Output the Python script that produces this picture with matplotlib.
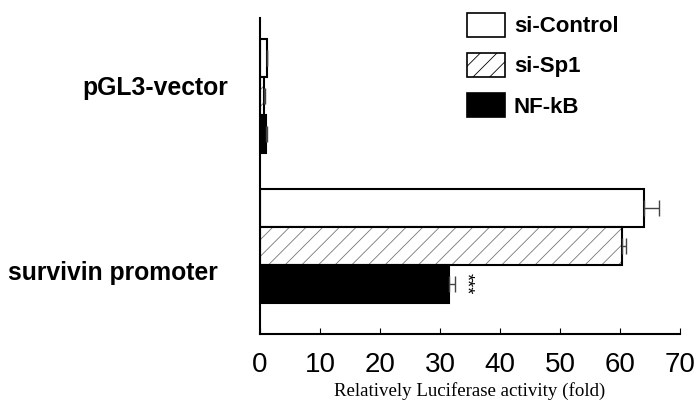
import numpy as np
import matplotlib.pyplot as plt
from matplotlib.patches import Patch

# --- data ---
groups = ["pGL3-vector", "survivin promoter"]
series = ["si-Control", "si-Sp1", "NF-kB"]
values = {
    "si-Control": [1.1, 64.0],
    "si-Sp1": [0.7, 60.3],
    "NF-kB": [1.0, 31.5],
}
errors = {
    "si-Control": [0.1, 2.5],
    "si-Sp1": [0.1, 0.8],
    "NF-kB": [0.1, 1.0],
}
xticks = [0, 10, 20, 30, 40, 50, 60, 70]

# --- styling ---
face = {"si-Control": "white", "si-Sp1": "white", "NF-kB": "black"}
hatch = {"si-Control": None, "si-Sp1": "//", "NF-kB": None}
plt.rcParams['hatch.linewidth'] = 0.6
plt.rcParams['hatch.color'] = '#777777'

fig = plt.figure(figsize=(6.98, 4.07), dpi=100)
ax = fig.add_axes([0.3725, 0.1794, 0.6015, 0.7764])

ypos = np.arange(len(groups))
h = 0.253
for i, s in enumerate(series):
    y = ypos + (i - 1) * h
    v = values[s]
    # hatch layer (gray lines), then outline on top
    ax.barh(y, v, height=h, color=face[s], hatch=hatch[s],
            edgecolor='#777777' if hatch[s] else face[s], linewidth=0)
    ax.barh(y, v, height=h, fill=False, edgecolor='black', linewidth=1.5)
    ax.errorbar(v, y, xerr=[np.zeros(len(v)), errors[s]], fmt='none',
                ecolor='#444444', elinewidth=1, capsize=6, capthick=1)

# significance mark beside the NF-kB survivin bar
ax.text(values["NF-kB"][1] + errors["NF-kB"][1] + 0.4, ypos[1] + h, "***",
        rotation=-90, ha='left', va='center', fontsize=13,
        family='Liberation Sans')

ax.set_xlim(0, 70)
ax.set_ylim(1.587, -0.52)
ax.set_xticks(xticks)
ax.set_xticklabels([str(t) for t in xticks], fontsize=20,
                   family='Liberation Sans')
ax.tick_params(axis='x', direction='in', length=4, width=0.8, pad=13)
ax.set_yticks([])

# group labels (not centred on the groups in the original)
label_x = [-0.076, -0.100]
label_dy = [-0.053, 0.18]
for gi, g in enumerate(groups):
    ax.text(label_x[gi], ypos[gi] + label_dy[gi], g, transform=ax.get_yaxis_transform(),
            ha='right', va='center', fontsize=17.8, fontweight='bold',
            family='Liberation Sans')

for side in ['top', 'right']:
    ax.spines[side].set_visible(False)
ax.spines['left'].set_linewidth(1.5)
ax.spines['bottom'].set_linewidth(1.5)

ax.set_xlabel("Relatively Luciferase activity (fold)", fontsize=13.6,
              family='Liberation Serif', labelpad=3)

handles = [Patch(facecolor=face[s], edgecolor='black', hatch=hatch[s],
                 linewidth=1.2) for s in series]
leg = ax.legend(handles, series, loc='upper left',
                bbox_to_anchor=(0.445, 1.079), frameon=False,
                prop={'family': 'Liberation Sans', 'weight': 'bold',
                      'size': 16},
                handlelength=1.71, handleheight=1.25, labelspacing=0.72,
                handletextpad=0.4)

fig.savefig("out.png", dpi=100)
